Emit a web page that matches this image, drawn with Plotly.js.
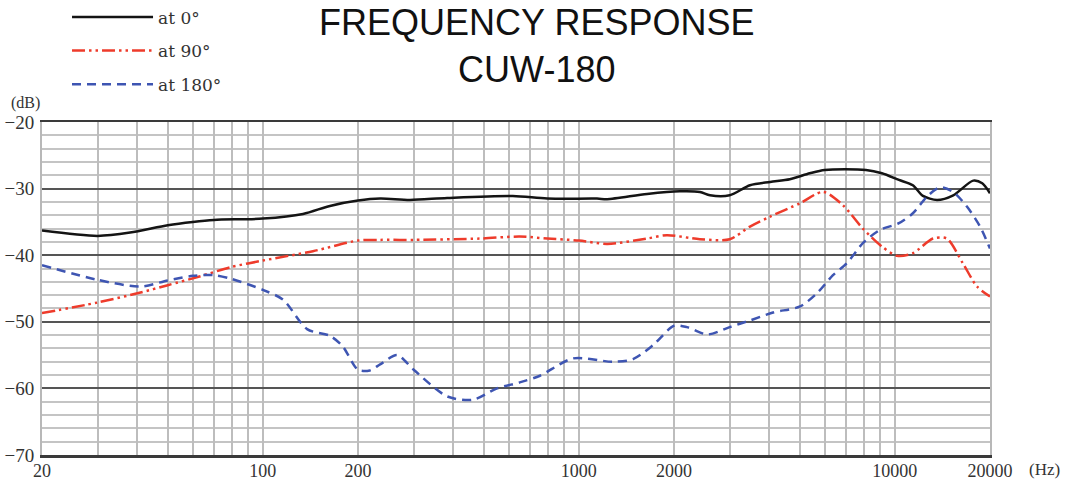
<!DOCTYPE html>
<html>
<head>
<meta charset="utf-8">
<script src="https://cdn.plot.ly/plotly-3.0.1.min.js"></script>
<style>
  html, body { margin: 0; padding: 0; background: #fff; }
  #chart { width: 1065px; height: 480px; }
</style>
</head>
<body>
<div id="chart"></div>
<script>
// ---- data ----
const freq0 = [20, 30, 38, 50, 60, 70, 100, 134, 163, 200, 235, 292, 383, 618, 794, 1141, 1228, 1644, 2088, 2416, 2600, 3000, 3480, 4030, 4650, 5380, 6000, 8100, 9100, 10300, 11400, 12270, 13600, 15300, 17700, 18900, 20000];
const db0 = [-36.3, -37.1, -36.6, -35.5, -35.0, -34.7, -34.5, -33.8, -32.6, -31.8, -31.5, -31.7, -31.4, -31.1, -31.5, -31.5, -31.6, -30.8, -30.4, -30.5, -31.0, -31.0, -29.5, -29.0, -28.6, -27.7, -27.2, -27.2, -27.7, -28.7, -29.5, -31.1, -31.7, -31.0, -28.8, -29.2, -30.7];

const freq90 = [20, 30, 41, 50, 63, 79, 100, 144, 200, 235, 300, 485, 650, 794, 1000, 1230, 1644, 1900, 2416, 3000, 3480, 4030, 5010, 5930, 6850, 7920, 9100, 10160, 11400, 13200, 14600, 16400, 18200, 20000];
const db90 = [-48.7, -47.1, -45.6, -44.5, -43.2, -41.8, -40.8, -39.4, -37.8, -37.7, -37.7, -37.5, -37.2, -37.5, -37.8, -38.3, -37.5, -37.0, -37.6, -37.6, -35.7, -34.2, -32.2, -30.5, -32.5, -36.0, -38.7, -40.1, -39.7, -37.5, -37.5, -41.2, -44.7, -46.2];

const freq180 = [20, 30, 41, 50, 60, 70, 80, 100, 116, 138, 163, 179, 200, 218, 235, 266, 300, 383, 462, 551, 650, 753, 958, 1282, 1484, 1717, 2000, 2198, 2552, 3000, 3480, 4114, 5010, 5670, 6370, 7050, 7920, 8970, 10300, 11400, 12640, 13900, 15280, 16900, 18600, 20000];
const db180 = [-41.5, -43.7, -44.7, -43.8, -43.1, -43.0, -43.6, -45.2, -46.7, -51.1, -52.1, -53.7, -57.2, -57.3, -56.4, -55.0, -57.2, -61.2, -61.7, -60.0, -59.1, -58.1, -55.5, -56.0, -55.6, -53.5, -50.6, -50.8, -51.9, -50.8, -49.8, -48.6, -47.7, -45.7, -43.0, -41.2, -38.2, -36.2, -35.2, -33.7, -31.2, -29.8, -30.5, -32.7, -35.7, -39.0];

const seriesNames = ['at 0°', 'at 90°', 'at 180°'];

const xGridVals = [20, 30, 40, 50, 60, 70, 80, 90, 100, 200, 300, 400, 500, 600, 700, 800, 900, 1000, 2000, 3000, 4000, 5000, 6000, 7000, 8000, 9000, 10000, 20000];
const xLabeled = [20, 100, 200, 1000, 2000, 10000, 20000];
const xTickText = xGridVals.map(v => xLabeled.includes(v) ? String(v) : '');

const yTickVals = [-70, -60, -50, -40, -30, -20];
const yTickText = ['−70', '−60', '−50', '−40', '−30', '−20'];

// ---- traces ----
const serif = 'Liberation Serif, Times New Roman, serif';
const wideSerif = 'DejaVu Serif, serif';
const traces = [
  { x: freq0, y: db0, name: seriesNames[0], legendgroup: 'g0', mode: 'lines',
    line: { color: '#141414', width: 2.5, shape: 'spline', smoothing: 0.8 } },
  { x: freq90, y: db90, name: seriesNames[1], legendgroup: 'g1', mode: 'lines',
    line: { color: '#ee3b2b', width: 2.5, shape: 'spline', smoothing: 0.8, dash: '13px,4px,2.5px,4px,2.5px,4px' } },
  { x: freq180, y: db180, name: seriesNames[2], legendgroup: 'g2', mode: 'lines',
    line: { color: '#3e55b2', width: 2.5, shape: 'spline', smoothing: 0.8, dash: '9px,6px' } }
];

const layout = {
  width: 1065, height: 480,
  margin: { l: 42, r: 75, t: 122, b: 25, autoexpand: false },
  paper_bgcolor: '#ffffff', plot_bgcolor: '#ffffff',
  font: { family: serif, size: 18, color: '#333' },
  title: {
    text: 'FREQUENCY RESPONSE<br>CUW-180',
    font: { family: 'Liberation Sans, Arial, sans-serif', size: 36, color: '#111' },
    xref: 'container', x: 0.504, xanchor: 'center',
    yref: 'container', y: 0.927, yanchor: 'middle'
  },
  showlegend: true,
  legend: {
    x: 0.0264, xanchor: 'left', y: 1.368, yanchor: 'top',
    bgcolor: 'rgba(0,0,0,0)', borderwidth: 0,
    font: { family: wideSerif, size: 17, color: '#333' },
    tracegroupgap: 8.5, traceorder: 'grouped', itemwidth: 81
  },
  xaxis: {
    type: 'log',
    range: [Math.log10(20), Math.log10(20000)],
    tickmode: 'array', tickvals: xGridVals, ticktext: xTickText,
    ticks: '', showgrid: true, gridcolor: '#bdbdbd', gridwidth: 2,
    showline: true, linecolor: '#3a3a3a', linewidth: 2.5, mirror: true,
    zeroline: false, ticklabelstandoff: -2,
    tickfont: { family: serif, size: 18, color: '#333' }
  },
  yaxis: {
    range: [-70, -20],
    tickmode: 'array', tickvals: yTickVals, ticktext: yTickText,
    ticks: '', showgrid: true, gridcolor: '#555555', gridwidth: 2,
    minor: { dtick: 2, tick0: -70, showgrid: true, gridcolor: '#c4c4c4', gridwidth: 2, ticks: '' },
    showline: true, linecolor: '#b8b8b8', linewidth: 2, mirror: true,
    zeroline: false, ticklabelstandoff: 2,
    tickfont: { family: serif, size: 19, color: '#333' }
  },
  annotations: [
    { text: '(dB)', xref: 'paper', yref: 'paper', x: -0.017, y: 1.057, xanchor: 'center', yanchor: 'middle',
      showarrow: false, font: { family: serif, size: 16, color: '#333' } },
    { text: '(Hz)', xref: 'paper', yref: 'paper', x: 1.058, y: -0.045, xanchor: 'center', yanchor: 'middle',
      showarrow: false, font: { family: serif, size: 17, color: '#333' } }
  ]
};

Plotly.newPlot('chart', traces, layout, { displayModeBar: false, staticPlot: true });
</script>
</body>
</html>
